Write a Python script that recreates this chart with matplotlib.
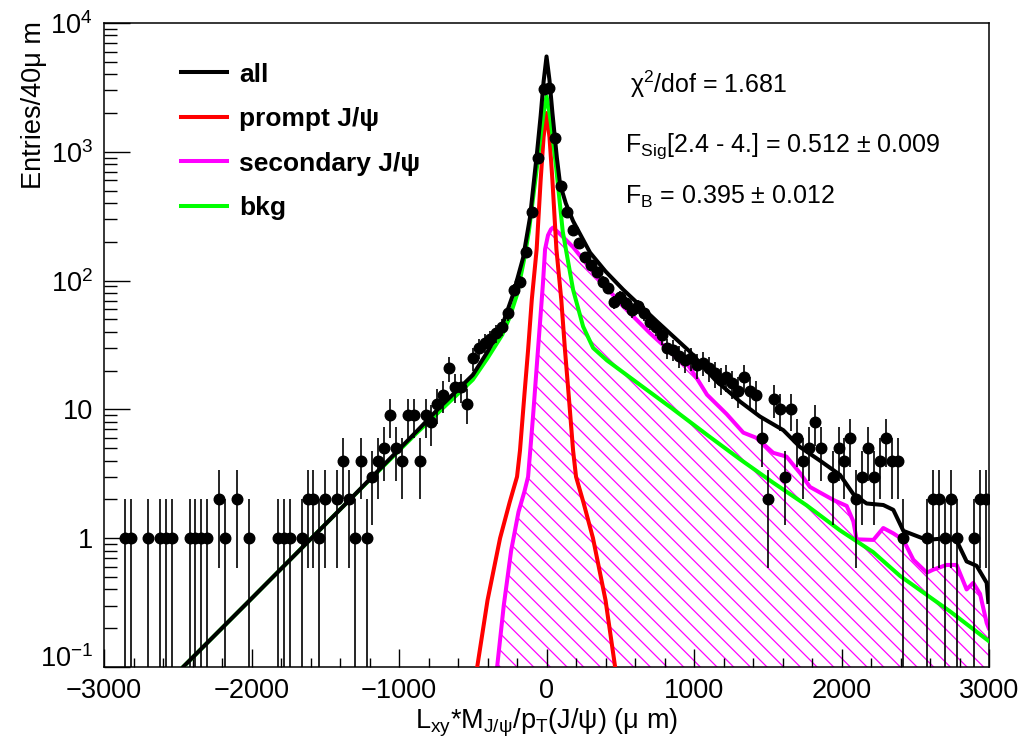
import numpy as np
import matplotlib
matplotlib.use('Agg')
import matplotlib.pyplot as plt
from matplotlib.ticker import FixedLocator, FixedFormatter, MultipleLocator, NullFormatter
from matplotlib.lines import Line2D

plt.rcParams.update({
    'font.family': ['Liberation Sans', 'DejaVu Sans'],
    'mathtext.fontset': 'custom',
    'mathtext.rm': 'Liberation Sans',
    'mathtext.it': 'Liberation Sans:italic',
    'mathtext.bf': 'Liberation Sans:bold',
    'hatch.linewidth': 0.9,
})

# data histogram (40 um bins, only non-empty bins shown)
bin_x = [-2860, -2820, -2700, -2620, -2580, -2540, -2420, -2380, -2340, -2300,
         -2220, -2180, -2100, -2020, -1820, -1780, -1740, -1660, -1620, -1580,
         -1540, -1500, -1420, -1380, -1340, -1300, -1260, -1220, -1180, -1140,
         -1100, -1060, -1020, -980, -940, -900, -860, -820, -780, -740,
         -700, -660, -620, -580, -540, -500, -460, -420, -380, -340,
         -300, -260, -220, -180, -140, -100, -60, -20, 20, 60,
         100, 140, 180, 220, 260, 300, 340, 380, 420, 460,
         500, 540, 580, 620, 660, 700, 740, 780, 820, 860,
         900, 940, 980, 1020, 1060, 1100, 1140, 1180, 1220, 1260,
         1300, 1340, 1380, 1420, 1460, 1500, 1540, 1580, 1620, 1660,
         1700, 1740, 1780, 1820, 1860, 1940, 1980, 2020, 2060, 2100,
         2140, 2180, 2220, 2260, 2300, 2340, 2380, 2420, 2580, 2620,
         2660, 2700, 2740, 2780, 2900, 2940, 2980]
counts = [1, 1, 1, 1, 1, 1, 1, 1, 1, 1,
          2, 1, 2, 1, 1, 1, 1, 1, 2, 2,
          1, 2, 2, 4, 2, 1, 4, 1, 3, 4,
          5, 9, 5, 4, 9, 9, 4, 9, 8, 11,
          13, 21, 15, 15, 11, 25, 30, 33, 35, 39,
          44, 56, 85, 98, 166, 340, 890, 3100, 3150, 1280,
          540, 340, 245, 195, 152, 132, 117, 98, 88, 68,
          74, 67, 59, 63, 56, 48, 44, 38, 30, 29,
          26, 24, 25, 22, 23, 21, 19, 17, 18, 16,
          14, 18, 14, 13, 6, 2, 12, 10, 3, 10,
          6, 4, 5, 8, 5, 3, 5, 4, 6, 2,
          3, 5, 3, 4, 6, 4, 4, 1, 1, 2,
          2, 1, 2, 1, 1, 2, 2]

# fit components
all_x = [-2464, -2000, -1332, -878, -720, -500, -400, -300, -227, -159,
         -112, -64, -40, -20, 0, 20, 40, 70, 92, 130,
         180, 295, 400, 520, 750, 973, 1142, 1312, 1447, 1605,
         1719, 1854, 1990, 2080, 2170, 2283, 2351, 2419, 2578, 2712,
         2780, 2848, 2916, 2984, 2995]
all_y = [0.1, 0.34, 2.0, 6.8, 10.5, 18.5, 28, 45, 78, 150,
         310, 1000, 1900, 3500, 5500, 3600, 2000, 900, 560, 400,
         290, 165, 118, 85, 48, 28, 17, 11.5, 8.8, 6.9,
         5.1, 4.0, 3.1, 2.2, 1.86, 1.81, 1.66, 1.14, 0.97, 1.0,
         0.96, 0.66, 0.61, 0.45, 0.32]

prompt_x = [-470, -400, -315, -250, -200, -180, -150, -125, -100, -67,
            -40, -20, 0, 20, 40, 67, 100, 125, 150, 180,
            200, 250, 315, 400, 465]
prompt_y = [0.1, 0.33, 1.0, 1.9, 3.0, 4.8, 13, 29, 71, 175,
            600, 1300, 2000, 1300, 600, 175, 71, 29, 13, 4.8,
            3.0, 1.9, 1.0, 0.33, 0.1]

sec_x = [-335, -290, -240, -190, -150, -125, -92, -58, -24, -10,
         10, 30, 44, 100, 180, 342, 520, 702, 905, 960,
         1018, 1088, 1221, 1334, 1425, 1537, 1627, 1719, 1786, 1945,
         2035, 2080, 2102, 2216, 2283, 2351, 2419, 2487, 2578, 2622,
         2712, 2780, 2848, 2893, 2939, 2984, 2998]
sec_y = [0.1, 0.3, 0.8, 1.6, 2.3, 3.0, 8.7, 29, 96, 175,
         225, 250, 258, 225, 182, 107, 63, 39, 24, 22,
         17.5, 13, 9.2, 6.6, 6.0, 4.6, 4.3, 3.2, 2.5, 1.98,
         1.78, 1.35, 0.98, 0.97, 1.2, 1.09, 0.97, 0.68, 0.54, 0.57,
         0.62, 0.62, 0.40, 0.45, 0.37, 0.22, 0.2]

bkg_x = [-2464, -2000, -1332, -878, -500, -400, -300, -250, -200, -150,
         -120, -65, -38, -20, 0, 20, 38, 65, 110, 180,
         248, 316, 410, 634, 850, 1100, 1312, 1536, 1763, 1990,
         2214, 2396, 2736, 2995]
bkg_y = [0.1, 0.34, 2.0, 6.6, 17, 25, 38, 52, 78, 150,
         240, 760, 1400, 2000, 2700, 2000, 1400, 760, 240, 85,
         44, 30, 24, 15.5, 10.2, 6.2, 4.1, 2.7, 1.8, 1.15,
         0.78, 0.51, 0.27, 0.16]

ytick_vals = [0.1, 1, 10, 100, 1000, 10000]
ytick_text = ['', '1', '10', r'$\mathrm{10^{2}}$', r'$\mathrm{10^{3}}$', r'$\mathrm{10^{4}}$']

fig = plt.figure(figsize=(10.31, 7.47), dpi=100)
ax = fig.add_axes([0.1009, 0.1071, 0.8584, 0.8621])
ax.set_yscale('log')

ax.fill_between(sec_x, sec_y, 1e-3, facecolor='none', edgecolor='#ff00ff',
                hatch='\\\\', linewidth=0, zorder=1)
ax.plot(sec_x, sec_y, color='#ff00ff', lw=2.9, zorder=2)
ax.plot(prompt_x, prompt_y, color='#ff0000', lw=2.9, zorder=3)
ax.plot(bkg_x, bkg_y, color='#00ff00', lw=2.9, zorder=4)
ax.plot(all_x, all_y, color='black', lw=2.9, zorder=5)

cnt = np.array(counts, dtype=float)
err = np.sqrt(cnt)
lo = np.minimum(err, cnt - 1e-3)
ax.errorbar(bin_x, cnt, yerr=[lo, err], fmt='o', color='black', ms=7.6,
            elinewidth=1.2, capsize=0, zorder=6)

ax.set_xlim(-3000, 3000)
ax.set_ylim(0.1, 1e4)

ax.xaxis.set_major_locator(MultipleLocator(1000))
ax.xaxis.set_minor_locator(MultipleLocator(200))
ax.yaxis.set_major_locator(FixedLocator(ytick_vals))
ax.yaxis.set_major_formatter(FixedFormatter(ytick_text))
minors = [m * 10.0 ** e for e in range(-1, 4) for m in range(2, 10)]
ax.yaxis.set_minor_locator(FixedLocator(minors))
ax.yaxis.set_minor_formatter(NullFormatter())

ax.tick_params(axis='both', which='both', direction='in', top=False, right=False,
               labelsize=19.5, width=1.0)
ax.tick_params(axis='y', which='major', length=19, pad=8)
ax.tick_params(axis='y', which='minor', length=9.5)
ax.tick_params(axis='x', which='major', length=13, pad=8)
ax.tick_params(axis='x', which='minor', length=6.5)
for s in ax.spines.values():
    s.set_linewidth(1.1)

# lowest y label sits a little higher so it clears the -3000 label
ax.text(-0.012, 0.012, r'$\mathrm{10^{-1}}$', transform=ax.transAxes,
        ha='right', va='center', fontsize=19.5)

ax.set_xlabel(r'L$_{\mathrm{xy}}$*M$_{\mathrm{J/ψ}}$/p$_{\mathrm{T}}$(J/ψ) (μ m)',
              fontsize=19.5, labelpad=2)
fig.text(0.033, 0.972, 'Entries/40μ m', rotation=90, ha='center', va='top',
         fontsize=19.5)

handles = [Line2D([], [], color=c, lw=2.9) for c in ['black', '#ff0000', '#ff00ff', '#00ff00']]
labels = ['all', 'prompt J/ψ', 'secondary J/ψ', 'bkg']
ax.legend(handles, labels, loc='upper left', bbox_to_anchor=(0.075, 0.955),
          frameon=False, handlelength=1.75, handletextpad=0.45, labelspacing=0.78,
          borderaxespad=0, prop={'weight': 'bold', 'size': 19})

ax.text(0.594, 0.891, r'$\mathrm{χ^{2}}$/dof = 1.681', transform=ax.transAxes, fontsize=18)
ax.text(0.589, 0.800, r'F$_{\mathrm{Sig}}$[2.4 - 4.] = 0.512 ± 0.009', transform=ax.transAxes, fontsize=18)
ax.text(0.589, 0.720, r'F$_{\mathrm{B}}$ = 0.395 ± 0.012', transform=ax.transAxes, fontsize=18)

fig.savefig('out.png', dpi=100)
